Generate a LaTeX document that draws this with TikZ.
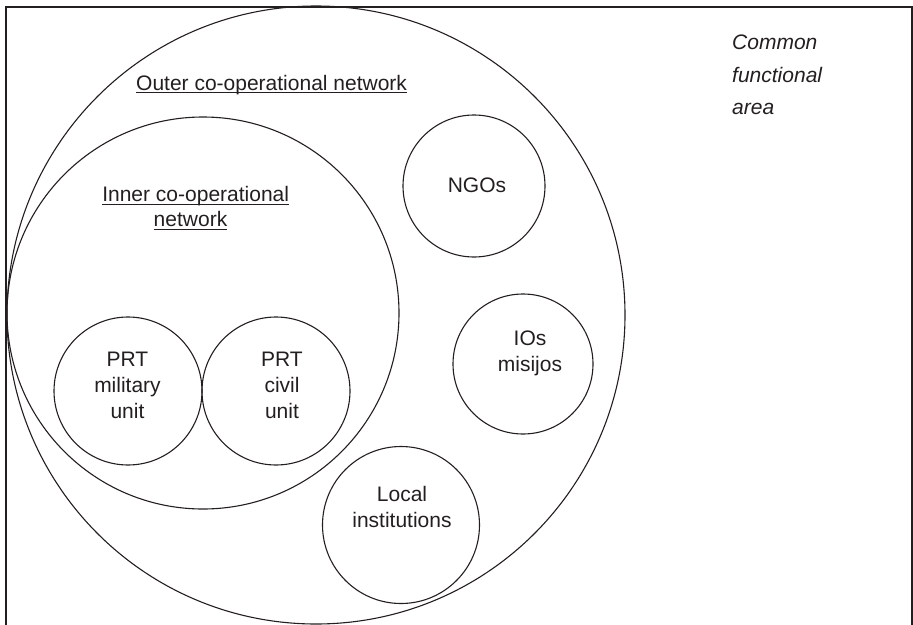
\documentclass[tikz,border=0pt]{standalone}
\usepackage{fontspec}
\setmainfont{Liberation Sans}
\definecolor{ink}{RGB}{35,31,32}
\tikzset{
  bubble/.style={circle, draw=ink, line width=1.1pt, inner sep=0pt},
  lbl/.style={inner sep=0pt, align=center, text=ink, font=\fontsize{21}{26}\selectfont},
  ulbl/.style={inner sep=0pt, text=ink, font=\fontsize{21}{26}\selectfont},
  uline/.style={draw=ink, line width=1.2pt},
  frame/.style={draw=ink, line width=1.5pt},
}
\begin{document}
\begin{tikzpicture}[x=1pt,y=-1pt]
\useasboundingbox (0,0) rectangle (913,624);
\clip (0,0) rectangle (913,624);
\draw[frame] (6,7) rectangle (912,660);
% circles
\node[bubble, minimum size=618pt] (outer) at (316,315) {};
\node[bubble, minimum size=392pt] (inner) at (203,313) {};
\node[bubble, minimum size=148pt] (mil) at (128,391) {};
\node[bubble, minimum size=148pt] (civ) at (276,391) {};
\node[bubble, minimum size=142pt] (ngo) at (474,186) {};
\node[bubble, minimum size=140pt] (ios) at (523,364) {};
\node[bubble, minimum size=157pt] (loc) at (401,525) {};
% labels inside circles
\node[lbl] (tmil) at (127.5,385.3) {PRT\\military\\unit};
\node[lbl] (tciv) at (282,385) {PRT\\civil\\unit};
\node[lbl] (tngo) at (477,185) {NGOs};
\node[lbl] (tios) at (530,353.5) {IOs\\misijos};
\node[lbl] (tloc) at (402,506.7) {Local\\institutions};
% underlined network titles
\node[ulbl, anchor=base west] (touter) at (136,90) {Outer co-operational network\ };
\draw[uline] ([yshift=-2.5pt]touter.base west) -- ([yshift=-2.5pt]touter.base east);
\node[ulbl, anchor=base] (tin1) at (195.7,201.7) {Inner co-operational\ };
\draw[uline] ([yshift=-2.5pt]tin1.base west) -- ([yshift=-2.5pt]tin1.base east);
\node[ulbl, anchor=base] (tin2) at (190.5,226.7) {network};
\draw[uline] ([yshift=-2.5pt]tin2.base west) -- ([yshift=-2.5pt]tin2.base east);
% area label
\node[inner sep=0pt, align=left, anchor=north west, text=ink,
      font=\fontsize{21}{32.5}\selectfont\itshape] (tarea) at (732,34.7) {Common\\functional\\area};
\end{tikzpicture}
\end{document}
